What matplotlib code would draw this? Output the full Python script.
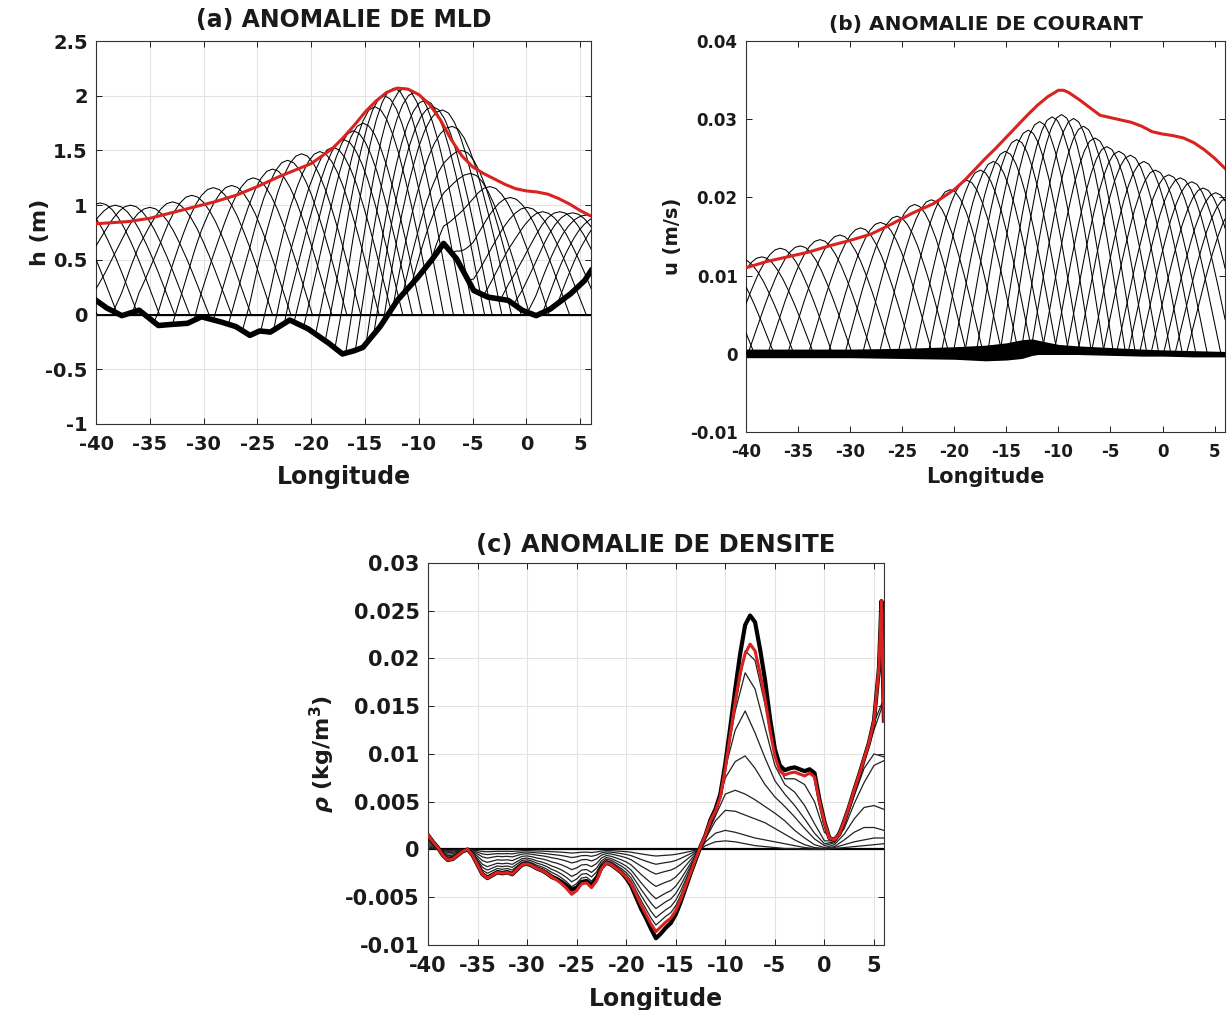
import numpy as np
import matplotlib
matplotlib.use("Agg")
import matplotlib.pyplot as plt
from matplotlib.ticker import FuncFormatter, MultipleLocator

plt.rcParams["font.family"] = ["DejaVu Sans"]
plt.rcParams["font.weight"] = "bold"
plt.rcParams["axes.linewidth"] = 0.8
plt.rcParams["axes.unicode_minus"] = False

# ---------------- data ----------------
LON_TICKS = [-40, -35, -30, -25, -20, -15, -10, -5, 0, 5]

# normalised profile of one wave crest (distance from crest / half width)
PULSE_S = [0.0, 0.1, 0.2, 0.3, 0.4, 0.5, 0.6, 0.7, 0.8, 0.9, 1.0]
PULSE_F = [1.0, 0.985, 0.94, 0.87, 0.78, 0.67, 0.55, 0.42, 0.28, 0.14, 0.0]

# (a) mixed layer depth anomaly
MLD_CREST_LON = [-45.4, -43.5, -41.6, -39.6, -38.2, -36.8, -35.0, -32.9, -31.1,
                 -29.1, -27.4, -25.4, -23.6, -22.2, -20.9, -19.2, -18.0, -17.0,
                 -16.1, -15.2, -14.1, -13.2, -12.3, -11.3, -10.4, -9.4, -8.7,
                 -7.8, -6.9, -6.0, -5.2, -3.4, -1.5, 0.05, 1.5, 3.1, 4.3, 5.6,
                 7.0, 8.4]
MLD_CREST_H = [1.0, 1.0, 1.0, 1.02, 1.0, 1.0, 0.98, 1.03, 1.09,
               1.16, 1.18, 1.25, 1.33, 1.41, 1.47, 1.49, 1.53, 1.60,
               1.68, 1.75, 1.90, 2.00, 2.07, 2.07, 2.03, 1.96, 1.90,
               1.87, 1.72, 1.50, 1.29, 1.17, 1.07, 0.98, 0.94, 0.94, 0.93, 0.91,
               0.90, 0.90]
MLD_RES_LON = [-40, -39, -37.6, -36, -34.2, -33, -31.5, -30.2, -28.3, -27, -25.7,
               -24.8, -23.8, -22, -20.3, -18.4, -17.1, -16, -15.2, -13.6, -12,
               -10.1, -8.8, -7.7, -6.5, -4.9, -3.6, -1.7, -0.4, 0.9, 2.2, 4.1,
               5.4, 6]
MLD_RES = [0.13, 0.06, -0.01, 0.04, -0.10, -0.09, -0.08, -0.02, -0.07, -0.11,
           -0.19, -0.15, -0.16, -0.05, -0.13, -0.26, -0.36, -0.33, -0.30, -0.11,
           0.13, 0.34, 0.50, 0.65, 0.51, 0.22, 0.16, 0.13, 0.04, -0.01, 0.05,
           0.19, 0.31, 0.40]
MLD_ENV_LON = [-40, -37, -35, -33, -31, -29, -27, -25, -23, -21, -20, -19, -18,
               -17, -16, -15, -14, -13, -12, -11, -10, -9, -8, -7, -6, -5, -4,
               -3, -2, -1, 0, 1, 2, 3, 4, 5, 6]
MLD_ENV = [0.83, 0.85, 0.88, 0.93, 0.98, 1.03, 1.09, 1.17, 1.26, 1.34, 1.38,
           1.45, 1.52, 1.62, 1.73, 1.85, 1.95, 2.03, 2.07, 2.06, 2.01, 1.92,
           1.78, 1.60, 1.45, 1.35, 1.29, 1.24, 1.19, 1.15, 1.13, 1.12, 1.10,
           1.06, 1.01, 0.95, 0.90]

# (b) current anomaly
CUR_CREST_LON = [-44.2, -42.3, -40.4, -38.5, -36.7, -34.8, -32.9, -31.0, -29.0,
                 -27.1, -25.5, -23.8, -22.2, -20.4, -18.8, -17.5, -16.25, -15.1,
                 -14.0, -12.9, -11.8, -10.6, -9.7, -8.55, -7.6, -6.5, -5.35,
                 -4.2, -3.1, -1.8, -0.7, 0.6, 1.7, 2.8, 3.9, 5.1, 6.2, 7.3]
CUR_CREST_H = [0.0120, 0.0120, 0.0121, 0.0124, 0.0135, 0.0138, 0.0146, 0.0152,
               0.0161, 0.0168, 0.0176, 0.0191, 0.0197, 0.0210, 0.0222, 0.0235,
               0.0246, 0.0259, 0.0274, 0.0286, 0.0297, 0.0303, 0.0306, 0.0301,
               0.0291, 0.0276, 0.0265, 0.0259, 0.0254, 0.0246, 0.0235, 0.0229,
               0.0225, 0.0220, 0.0212, 0.0206, 0.0199, 0.0192]
CUR_RES_LON = [-40, -35, -30, -25, -20, -17, -15, -13.5, -12.5, -11.5, -10, -8,
               -5, -2, 0, 3, 6]
CUR_RES_UP = [0.0006, 0.0006, 0.0006, 0.0007, 0.0009, 0.0011, 0.0014, 0.0018,
              0.0019, 0.0016, 0.0012, 0.0010, 0.0008, 0.0006, 0.0005, 0.0004,
              0.0003]
CUR_RES_LO = [-0.0005, -0.0005, -0.0005, -0.0006, -0.0007, -0.0009, -0.0008,
              -0.0006, -0.0002, 0.0000, 0.0000, -0.0001, -0.0002, -0.0003,
              -0.0003, -0.0004, -0.0004]
CUR_ENV_LON = [-40, -38, -36, -34, -32, -30, -28, -26, -24, -22, -20, -19, -18,
               -17, -16, -15, -14, -13, -12, -11, -10, -9.5, -9, -8, -7, -6, -5,
               -4, -3, -2, -1, 0, 1, 2, 3, 4, 5, 6]
CUR_ENV = [0.0110, 0.0118, 0.0124, 0.0130, 0.0138, 0.0145, 0.0153, 0.0166,
           0.0180, 0.0192, 0.0210, 0.0222, 0.0236, 0.0250, 0.0263, 0.0277,
           0.0291, 0.0305, 0.0318, 0.0329, 0.0337, 0.0337, 0.0334, 0.0325,
           0.0315, 0.0305, 0.0302, 0.0299, 0.0296, 0.0291, 0.0284, 0.0281,
           0.0279, 0.0276, 0.0270, 0.0261, 0.0250, 0.0237]

# (c) density anomaly
RHO_LON = [-40, -39.5, -39, -38.5, -38, -37.5, -37, -36.5, -36, -35.5, -35,
           -34.5, -34, -33.5, -33, -32.5, -32, -31.5, -31, -30.5, -30, -29.5,
           -29, -28.5, -28, -27.5, -27, -26.5, -26, -25.5, -25, -24.5, -24,
           -23.5, -23, -22.5, -22, -21.5, -21, -20.5, -20, -19.5, -19, -18.5,
           -18, -17.5, -17, -16.5, -16, -15.5, -15, -14.5, -14, -13.5, -13,
           -12.5, -12, -11.5, -11, -10.5, -10, -9.5, -9, -8.5, -8, -7.5, -7,
           -6.5, -6, -5.5, -5, -4.5, -4, -3.5, -3, -2.5, -2, -1.5, -1, -0.5, 0,
           0.5, 1, 1.5, 2, 2.5, 3, 3.5, 4, 4.5, 5, 5.5, 5.75, 6]
RHO_FINAL = [0.0015, 0.0008, 0.0002, -0.0006, -0.0011, -0.0010, -0.0006,
             -0.0002, 0.0000, -0.0006, -0.0016, -0.0026, -0.0030, -0.0027,
             -0.0024, -0.0025, -0.0024, -0.0026, -0.0021, -0.0016, -0.0015,
             -0.0017, -0.0020, -0.0022, -0.0025, -0.0029, -0.0032, -0.0036,
             -0.0041, -0.0047, -0.0043, -0.0036, -0.0035, -0.0040, -0.0033,
             -0.0020, -0.0014, -0.0016, -0.0020, -0.0024, -0.0029, -0.0036,
             -0.0047, -0.0058, -0.0068, -0.0078, -0.0086, -0.0081, -0.0076,
             -0.0072, -0.0064, -0.0052, -0.0038, -0.0024, -0.0010, 0.0003,
             0.0015, 0.0030, 0.0040, 0.0055, 0.0085, 0.0120, 0.0155, 0.0185,
             0.0205, 0.0215, 0.0208, 0.0185, 0.0158, 0.0125, 0.0098, 0.0082,
             0.0078, 0.0080, 0.0081, 0.0079, 0.0077, 0.0080, 0.0076, 0.0050,
             0.0028, 0.0012, 0.0010, 0.0016, 0.0030, 0.0045, 0.0062, 0.0078,
             0.0095, 0.0112, 0.0135, 0.0190, 0.0260, 0.0135]
RHO_LAST = [0.0015, 0.0008, 0.0002, -0.0006, -0.0011, -0.0010, -0.0006,
            -0.0002, 0.0000, -0.0006, -0.0016, -0.0026, -0.0030, -0.0027,
            -0.0024, -0.0025, -0.0024, -0.0026, -0.0021, -0.0016, -0.0015,
            -0.0017, -0.0020, -0.0022, -0.0025, -0.0029, -0.0031, -0.0034,
            -0.0038, -0.0042, -0.0040, -0.0034, -0.0033, -0.0037, -0.0031,
            -0.0019, -0.0014, -0.0016, -0.0020, -0.0024, -0.0030, -0.0038,
            -0.0050, -0.0062, -0.0072, -0.0083, -0.0093, -0.0088, -0.0082,
            -0.0077, -0.0068, -0.0055, -0.0040, -0.0025, -0.0011, 0.0003,
            0.0015, 0.0031, 0.0042, 0.0058, 0.0090, 0.0128, 0.0168, 0.0205,
            0.0235, 0.0245, 0.0238, 0.0210, 0.0178, 0.0138, 0.0105, 0.0088,
            0.0083, 0.0085, 0.0086, 0.0084, 0.0082, 0.0084, 0.0080, 0.0052,
            0.0029, 0.0012, 0.0010, 0.0016, 0.0030, 0.0045, 0.0062, 0.0078,
            0.0095, 0.0112, 0.0135, 0.0190, 0.0260, 0.0135]
# intermediate snapshots: fraction of final anomaly west of the zero crossing
RHO_STEP_NEG_FRAC = [0.08, 0.18, 0.30, 0.45, 0.60, 0.72, 0.83, 0.92]
RHO_STEP_LON = [-12.5, -12, -11, -10, -9, -8, -7, -6, -5, -4, -3, -2, -1, 0,
                1, 2, 3, 4, 5, 6]
RHO_STEPS = [
    [0, 0.0004, 0.0008, 0.0009, 0.0008, 0.0006, 0.0004, 0.0003, 0.0002, 0.0001,
     0.0001, 0, 0, 0, 0.0001, 0.0002, 0.0003, 0.0004, 0.0005, 0.0006],
    [0, 0.0008, 0.0017, 0.0020, 0.0018, 0.0015, 0.0012, 0.0010, 0.0008, 0.0006,
     0.0004, 0.0002, 0.0001, 0, 0.0002, 0.0005, 0.0008, 0.0010, 0.0012, 0.0012],
    [0, 0.0011, 0.0030, 0.0041, 0.0040, 0.0036, 0.0032, 0.0028, 0.0022, 0.0016,
     0.0010, 0.0005, 0.0002, 0.0001, 0.0003, 0.0010, 0.0018, 0.0023, 0.0023,
     0.0020],
    [0, 0.0012, 0.0035, 0.0058, 0.0062, 0.0058, 0.0052, 0.0045, 0.0038, 0.0030,
     0.0020, 0.0012, 0.0005, 0.0002, 0.0005, 0.0016, 0.0032, 0.0044, 0.0046,
     0.0042],
    [0, 0.0013, 0.0036, 0.0075, 0.0092, 0.0098, 0.0085, 0.0068, 0.0055, 0.0045,
     0.0034, 0.0022, 0.0011, 0.0004, 0.0007, 0.0022, 0.0048, 0.0070, 0.0088,
     0.0093],
    [0, 0.0014, 0.0037, 0.0085, 0.0125, 0.0145, 0.0122, 0.0096, 0.0072, 0.0058,
     0.0046, 0.0032, 0.0017, 0.0006, 0.0008, 0.0026, 0.0056, 0.0085, 0.0100,
     0.0097],
    [0, 0.0015, 0.0038, 0.0088, 0.0145, 0.0185, 0.0168, 0.0128, 0.0088, 0.0068,
     0.0060, 0.0046, 0.0027, 0.0009, 0.0009, 0.0028, 0.0060, 0.0092, 0.0125,
     0.0155],
    [0, 0.0015, 0.0039, 0.0089, 0.0150, 0.0208, 0.0198, 0.0152, 0.0097, 0.0074,
     0.0074, 0.0068, 0.0050, 0.0018, 0.0010, 0.0030, 0.0063, 0.0095, 0.0133,
     0.0158],
]

RED = "#d8231f"
GRID = "#e3e3e3"
TXT = "#1a1a1a"


def wave_snapshot(x, crest, height, half_width, res_x, res_y):
    # crest moving east: zero ahead of it, residual anomaly left behind
    s = np.abs(x - crest) / half_width
    shape = np.interp(s, PULSE_S, PULSE_F, right=0.0)
    base = np.interp(x, res_x, res_y)
    y = height * shape
    west = x < crest
    y[west] = base[west] + (height - base[west]) * shape[west]
    return y


def style_axes(ax, ylim, ystep, tick_size, grid=True):
    ax.set_xlim(-40, 6)
    ax.set_ylim(*ylim)
    ax.set_xticks(LON_TICKS)
    ax.yaxis.set_major_locator(MultipleLocator(ystep))
    ax.yaxis.set_major_formatter(FuncFormatter(lambda v, p: f"{v:g}" if abs(v) > 1e-12 else "0"))
    ax.tick_params(direction="in", top=True, right=True, length=4, width=0.7,
                   labelsize=tick_size, colors=TXT)
    ax.tick_params(axis="x", pad=8)
    ax.tick_params(axis="y", pad=6)
    for lab in ax.get_xticklabels() + ax.get_yticklabels():
        lab.set_fontweight("bold")
    for sp in ax.spines.values():
        sp.set_color("#333333")
    if grid:
        ax.grid(True, color=GRID, lw=0.8)
        ax.set_axisbelow(True)


fig = plt.figure(figsize=(12.28, 10.10), dpi=100)
ax_a = fig.add_axes([0.0782, 0.5802, 0.4031, 0.3792])
ax_b = fig.add_axes([0.6075, 0.5723, 0.3901, 0.3871])
ax_c = fig.add_axes([0.3485, 0.0644, 0.3713, 0.3782])

x = np.linspace(-40, 6, 700)

# ---- (a) ----
ax_a.axhline(0, color="k", lw=0.9, zorder=2)
for c, h in zip(MLD_CREST_LON, MLD_CREST_H):
    ax_a.plot(x, wave_snapshot(x, c, h, 5.5, MLD_RES_LON, MLD_RES),
              color="k", lw=0.75, zorder=3)
ax_a.plot(MLD_RES_LON, MLD_RES, color="k", lw=4.0, zorder=4,
          solid_joinstyle="round")
ax_a.plot(MLD_ENV_LON, MLD_ENV, color=RED, lw=2.2, zorder=5)
style_axes(ax_a, (-1, 2.5), 0.5, 14)
ax_a.set_title("(a) ANOMALIE DE MLD", fontsize=17, fontweight="bold", pad=10,
               color=TXT)
ax_a.set_xlabel("Longitude", fontsize=17, fontweight="bold", color=TXT)
ax_a.set_ylabel("h (m)", fontsize=16, fontweight="bold", color=TXT)
ax_a.xaxis.set_label_coords(0.5, -0.107)
ax_a.yaxis.set_label_coords(-0.093, 0.5)

# ---- (b) ----
ax_b.fill_between(CUR_RES_LON, CUR_RES_LO, CUR_RES_UP, color="k", lw=0, zorder=4)
res_mid = [(u + l) / 2 for u, l in zip(CUR_RES_UP, CUR_RES_LO)]
for c, h in zip(CUR_CREST_LON, CUR_CREST_H):
    ax_b.plot(x, wave_snapshot(x, c, h, 5.0, CUR_RES_LON, res_mid),
              color="k", lw=0.75, zorder=3)
ax_b.plot(CUR_ENV_LON, CUR_ENV, color=RED, lw=2.2, zorder=5)
style_axes(ax_b, (-0.01, 0.04), 0.01, 12, grid=False)
ax_b.set_title("(b) ANOMALIE DE COURANT", fontsize=14.5, fontweight="bold",
               pad=8, color=TXT)
ax_b.set_xlabel("Longitude", fontsize=15, fontweight="bold", color=TXT)
ax_b.set_ylabel("u (m/s)", fontsize=14, fontweight="bold", color=TXT)
ax_b.xaxis.set_label_coords(0.5, -0.09)
ax_b.yaxis.set_label_coords(-0.134, 0.5)

# ---- (c) ----
rho_lon = np.array(RHO_LON)
rho_final = np.array(RHO_FINAL)
west_part = rho_lon <= -13
ax_c.axhline(0, color="k", lw=1.6, zorder=2)
for frac, step in zip(RHO_STEP_NEG_FRAC, RHO_STEPS):
    xs = np.concatenate([rho_lon[west_part], RHO_STEP_LON])
    ys = np.concatenate([frac * rho_final[west_part], step])
    ax_c.plot(xs, ys, color="#222222", lw=0.9, zorder=3)
ax_c.plot(RHO_LON, RHO_LAST, color="k", lw=3.0, zorder=4)
ax_c.plot(RHO_LON, RHO_FINAL, color=RED, lw=2.2, zorder=5)
style_axes(ax_c, (-0.01, 0.03), 0.005, 15)
ax_c.set_title("(c) ANOMALIE DE DENSITE", fontsize=17.5, fontweight="bold",
               pad=8, color=TXT)
ax_c.set_xlabel("Longitude", fontsize=17, fontweight="bold", color=TXT)
ax_c.set_ylabel(r"$\rho$ (kg/m$^{\mathbf{3}}$)", fontsize=16, fontweight="bold",
                color=TXT)
ax_c.xaxis.set_label_coords(0.5, -0.11)
ax_c.yaxis.set_label_coords(-0.2, 0.5)

fig.savefig("out.png", dpi=100)
